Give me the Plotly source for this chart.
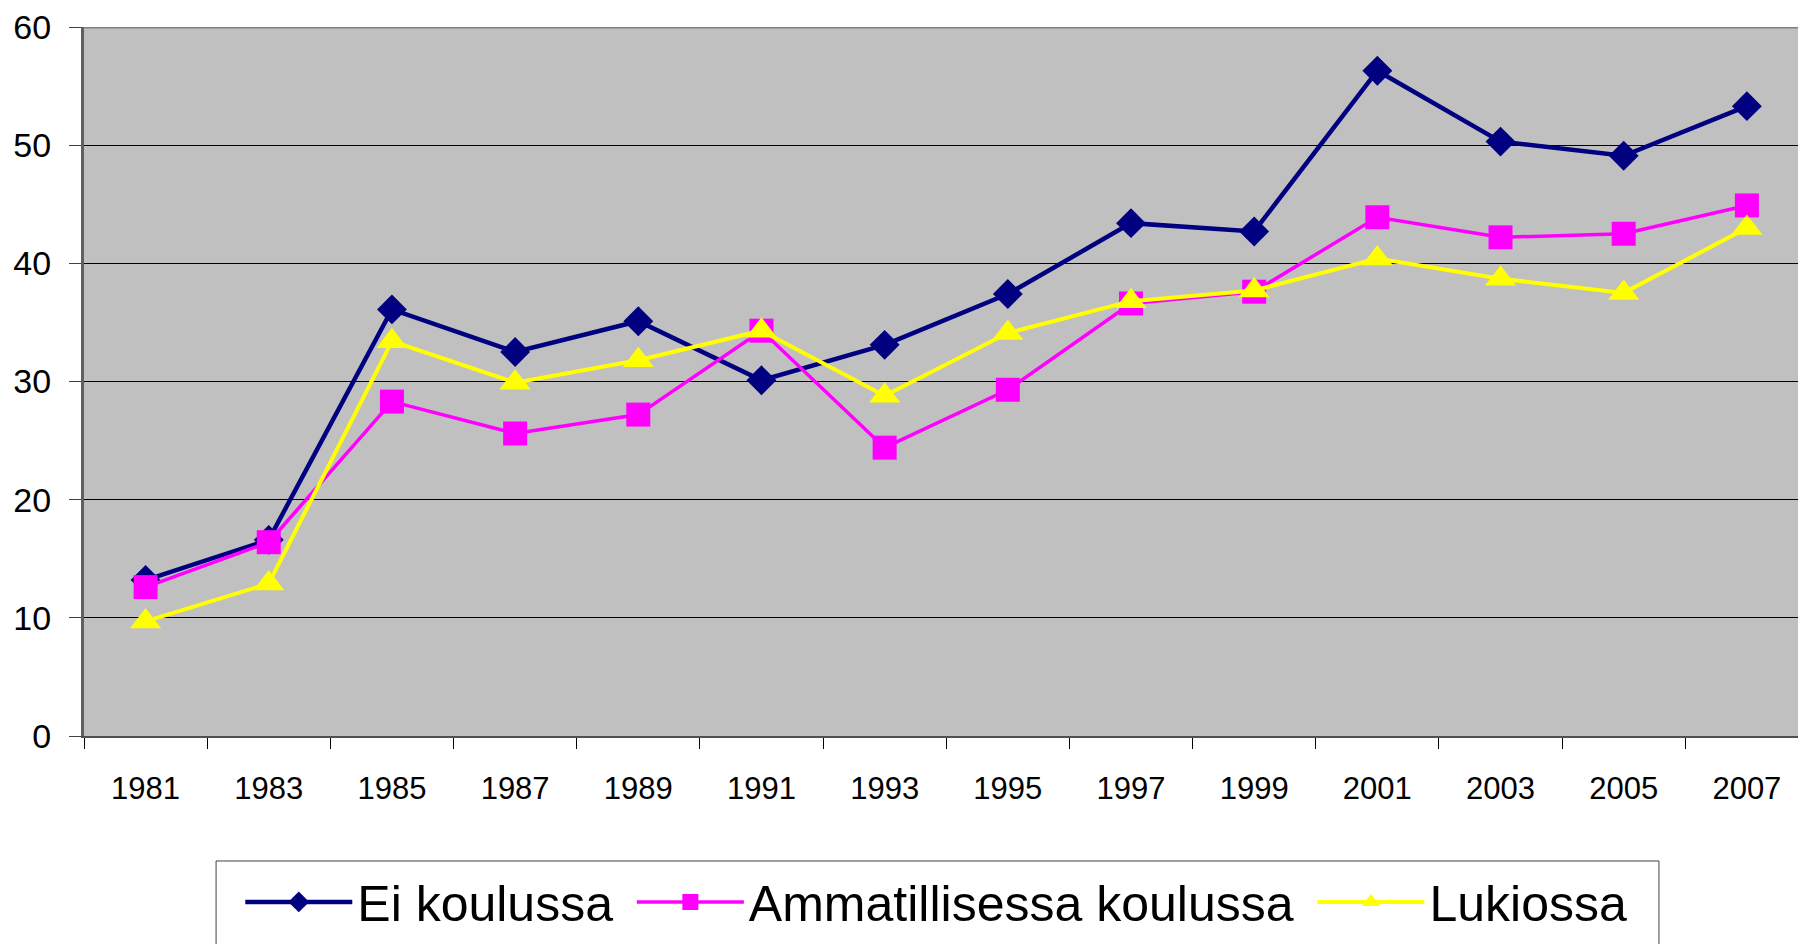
import plotly.graph_objects as go

# data
vuodet = ['1981', '1983', '1985', '1987', '1989', '1991', '1993',
          '1995', '1997', '1999', '2001', '2003', '2005', '2007']

ei_koulussa = [13.2, 16.6, 36.1, 32.5, 35.1, 30.1, 33.1,
               37.4, 43.4, 42.7, 56.3, 50.3, 49.1, 53.3]
ammatillisessa = [12.6, 16.4, 28.3, 25.6, 27.2, 34.3, 24.4,
                  29.3, 36.6, 37.6, 43.9, 42.2, 42.5, 44.9]
lukiossa = [9.7, 12.9, 33.4, 29.9, 31.8, 34.3, 28.8,
            34.1, 36.8, 37.7, 40.4, 38.7, 37.5, 43.0]

sarjat = [
    ('Ei koulussa', ei_koulussa, '#000080', 'diamond', 23, 4.5),
    ('Ammatillisessa koulussa', ammatillisessa, '#FF00FF', 'square', 24, 3.5),
    ('Lukiossa', lukiossa, '#FFFF00', 'triangle-up', 27, 4),
]

FONT = 'Liberation Sans, Arial, sans-serif'

fig = go.Figure()
for nimi, arvot, vari, symboli, koko, leveys in sarjat:
    fig.add_trace(go.Scatter(
        x=vuodet, y=arvot, name=nimi + '\u00a0', mode='lines+markers',
        line=dict(color=vari, width=leveys),
        marker=dict(symbol=symboli, size=koko, color=vari),
    ))

# sivun body-marginaali (8 px) on huomioitu marginaaleissa
fig.update_layout(
    width=1806, height=944,
    margin=dict(l=76, r=8, t=19, b=216, autoexpand=False),
    paper_bgcolor='white', plot_bgcolor='#C0C0C0',
    font=dict(family=FONT, color='black'),
    showlegend=True,
    legend=dict(
        orientation='h', x=0.499, xanchor='center', y=-0.234, yanchor='middle',
        font=dict(size=50, family=FONT), itemwidth=107,
        bgcolor='rgba(0,0,0,0)', borderwidth=0,
    ),
)

fig.update_xaxes(
    type='category', range=[-0.5, 13.48], automargin=False,
    tickson='boundaries', ticks='outside', ticklen=11, tickcolor='black', tickwidth=1,
    showline=True, linecolor='#505050', linewidth=2,
    showgrid=False, tickfont=dict(size=31), ticklabelstandoff=24,
    ticklabeloverflow='allow',
)
fig.update_yaxes(
    range=[0, 60], tickvals=[0, 10, 20, 30, 40, 50, 60], automargin=False,
    ticks='outside', ticklen=12, tickcolor='#404040', tickwidth=1,
    showline=True, linecolor='#606060', linewidth=3,
    showgrid=True, gridcolor='black', gridwidth=1,
    zeroline=False, tickfont=dict(size=34), ticklabelstandoff=11,
    ticklabeloverflow='allow',
)

# ylareuna harmaana
fig.add_shape(type='line', xref='paper', yref='y', x0=0, x1=1, y0=60, y1=60,
              line=dict(color='#808080', width=3))
# selitteen kehys
fig.add_shape(type='rect', xref='paper', yref='paper',
              x0=0.0767, x1=0.9146, y0=-0.1763, y1=-0.31,
              line=dict(color='#404040', width=1))

fig.write_html('out.html')
